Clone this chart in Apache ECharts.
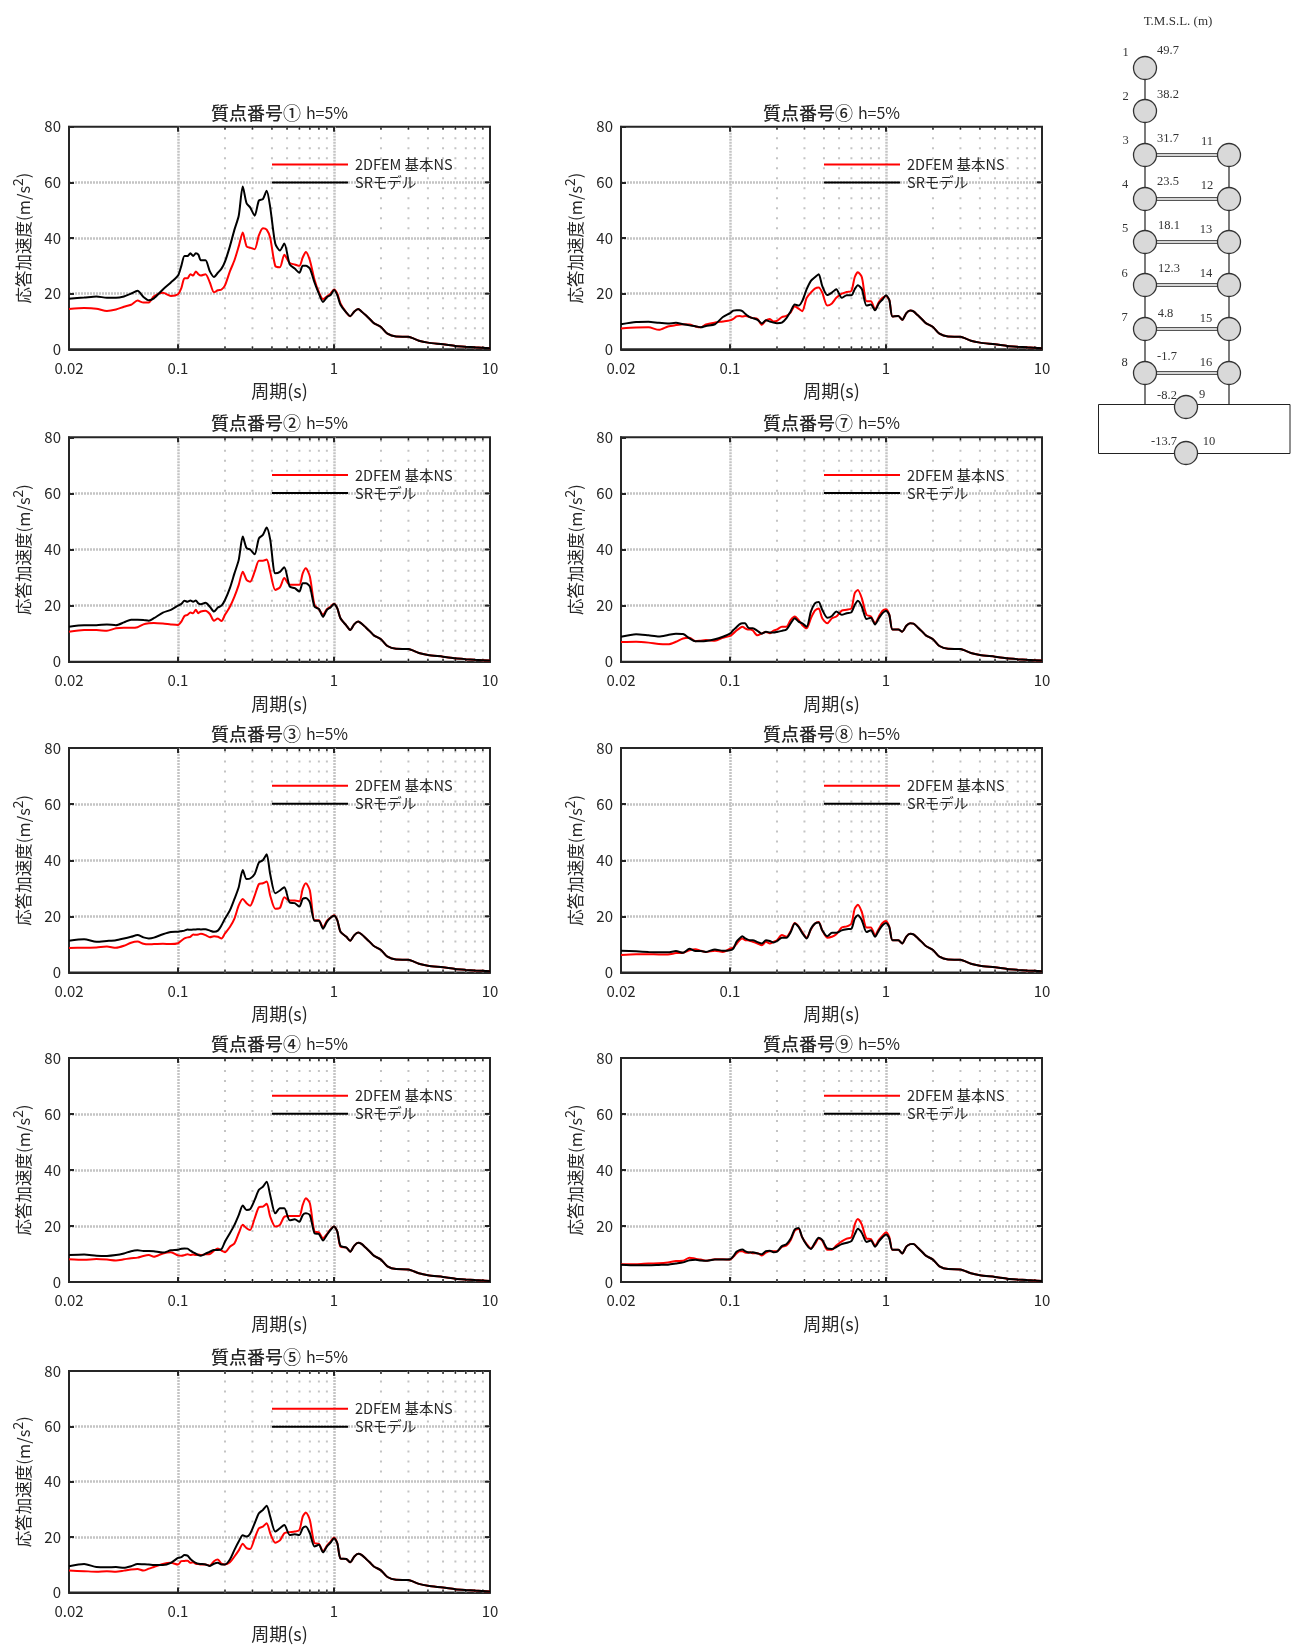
<!DOCTYPE html>
<html>
<head>
<meta charset="utf-8">
<title>応答スペクトル</title>
<script src="https://cdn.jsdelivr.net/npm/echarts@6/dist/echarts.min.js"></script>
<style>
  html, body { margin: 0; padding: 0; background: #fff; }
  #main { width: 1296px; height: 1652px; }
</style>
</head>
<body>
<div id="main"></div>
<script>
// periods (s) shared by every curve
var headPeriods = [0.02,0.025,0.03,0.035,0.04,0.045,0.05,0.055,0.06,0.065,0.07,0.08,0.09,0.1,0.105,0.11,0.115,0.12,0.125,0.13,0.135,0.14,0.15,0.16,0.17,0.18,0.19,0.2,0.215,0.23,0.245,0.26,0.275,0.29,0.31,0.33,0.35,0.37,0.39,0.42,0.45,0.48,0.52,0.56,0.6,0.63,0.66,0.7,0.75,0.8,0.85,0.9,0.95,1,1.05,1.1];
var shoulderPeriods = [1.2,1.27,1.35,1.43];
var tailPeriods = [1.5,1.6,1.7,1.8,2,2.2,2.5,3,3.5,4,5,6,7,8,10];
// between 1.2 and 1.43 s the two curves of a panel coincide, one list per panel
var shoulders = [[13.2,11.9,13.6,14.5],[12.9,11.3,13.4,14.3],[12.7,11.3,13.3,14.2],[12.3,10.8,13,14],[12.1,10.9,13,14],[12,10.6,13,13.9],[11.5,10.7,12.8,13.7],[11.5,10.3,12.8,13.8],[11.5,10.2,12.6,13.5]];
// above 1.5 s all the curves lie on top of each other
var tailValues = [13.6,12.2,10.8,9.4,8,5.6,4.6,4.5,3.1,2.4,1.8,1.2,0.9,0.7,0.4];

// 2DFEM 基本NS
var red1 = [14.5,14.8,14.6,13.8,14.3,15.3,16,17.5,16.8,16.8,19,20.3,19.2,19.8,22,25.5,25.5,27,26.5,28,27,26.5,27,24,20.5,21.2,21.5,23,28,32,37,42,37,36.5,36,41,43.5,43,40,30,29.5,34,31,30.5,30,33,35,32,25,20.5,18,19,20,21.5,20,16.5];
var red2 = [10.7,11.3,11.3,11,11.9,12.1,12.1,12.3,13.3,13.7,13.8,13.6,13.3,13.1,14.3,16.3,16.7,17.5,17.3,18.5,17.3,17.9,18.2,17,14.6,15.4,14.5,16.7,19.6,23.2,27.4,32.1,29.2,28.5,32.1,36,36,36.4,32,25.6,26.5,29.8,27.4,27.4,27.4,31.5,33.3,30.4,20.2,18.7,16.7,18.7,19.6,20.7,19,15.5];
var red3 = [8.7,8.8,8.9,9.2,8.8,9.5,10.6,11,10.2,10,10.1,10.2,10.1,10.4,11.3,12.1,12.5,12.7,13.5,13.4,13.5,13.8,13.3,12.5,12.9,12.7,12.1,13.9,16.2,19.2,23.9,26.2,24.7,23.8,27.4,31.5,31.8,32.4,27.4,22.7,23,26.8,25.6,25.6,25.4,29.8,31.8,29.2,18.6,18.6,16,18.4,19.5,20.4,18.6,14.5];
var red4 = [8.1,7.9,8.2,8,7.7,8.1,8.5,8.7,9.3,9.6,9,10.2,10.6,9.5,9.4,9.6,9.9,9.6,9.8,9.6,9.8,9.6,9.9,10,11.2,12,11.2,10.6,12.6,13.8,17.4,20.4,19.2,18.6,22.7,26.7,26.9,27.9,23.3,19.8,20.4,23.3,23.6,23.6,23.6,27.5,29.9,28.1,18,17.7,15.6,17.1,18.8,19.8,18,12.6];
var red5 = [7.9,7.7,7.5,7.7,7.5,7.9,8.3,8.5,7.9,8.6,9.2,10.3,10.7,10.1,11.3,11.4,11.5,10.7,10.9,10.4,10.3,10.1,10.1,9.7,11.3,11.9,10.4,10.1,10.9,13,15.2,17.6,16,15.7,19.6,23.2,23.8,25,21.4,18,18.8,21.4,21.8,22,22.6,27.4,28.9,26.2,17.8,17.6,14.8,16.9,18.4,19.9,17.8,12.3];
var red6 = [7.5,7.8,7.9,7,8.2,8.7,9,8.9,8.2,7.9,8.9,9.6,10,10.4,10.9,11.8,12,11.8,12,11.8,11.5,11.2,10.9,8.8,10.4,10.9,10,10.2,11.6,12,13.3,15.5,14.6,13.7,18.5,20.4,21.8,22.2,20.4,15.7,16.5,18.5,20,20.6,21,25.9,27.7,25.9,17.3,17.3,14.3,17,18.5,19.1,17.7,11.8];
var red7 = [7,7.1,6.8,6.3,6.2,7.1,8.3,8.5,7.3,7.5,7.7,7.5,8.5,9.2,10.1,11.1,11.9,12.5,11.9,11.5,11.5,11.1,9.4,10.1,10.6,10.1,11.1,11.5,12.5,12.5,14.9,16.1,14.9,13.1,11.9,15.5,18.2,19,15.5,13.7,15.5,16.1,18.2,18.5,19,24.4,25.6,22.6,16.7,16.1,13.7,16.1,18.2,18.7,16.7,11.5];
var red8 = [6.2,6.5,6.5,6.4,6.4,6.9,7,7.9,8.3,7.7,7.3,7.7,7.3,8.5,8.9,10.1,11.5,12.1,11.5,11.5,11.2,10.9,10.3,9.7,10.9,10.3,10.9,11.5,13.3,12.7,14.8,17.6,16.4,14.4,12.4,15.3,17.4,18,15,12.4,12.7,13.6,16,16.4,17.4,22.7,24.1,21.5,16,16,13.3,15.6,17.6,18.3,16.2,11.5];
var red9 = [6.3,6.3,6.6,6.7,7,7.5,7.6,8.7,8.3,8,7.6,8.1,8.1,8,9,10.2,11,11,10.5,10.4,10.6,10.3,10.3,9.5,10.5,11,11,11,12.5,13,15,18.3,19,16,13.5,12,13.5,15.5,14.8,11.5,11.5,13,14.5,15.5,16,20.5,22.5,20.5,15.5,15.3,13,15,16.5,17.8,16,11.5];

// SRモデル
var black1 = [18.2,18.6,19,18.5,18.5,19,20,21,18.8,17.6,18.3,21.5,24,26.5,30,33.5,33.5,34.5,33.5,34.5,34,32,32,28,26,27.5,29,31.5,37,43,48,58.5,52.5,51,48,53.5,54,57,51,38,35.5,38,30.5,29,27.5,30,30,29,24,20,17,18.7,19.5,21.3,19.5,16];
var black2 = [12.5,13,13,13.3,13,14,15,15,14.9,14.6,15.5,17.5,18.5,20,20.6,21.7,21.4,21.8,21.4,21.8,20.8,20.5,21,19.6,17.9,19.3,20,22,26.2,31.5,36.3,44.6,40.5,40,38.3,44,45.2,47.8,43.5,31.5,32,33.7,26.8,26.2,25,28,28,26.8,19.6,18.8,16,18.5,19.3,20.6,19,15.5];
var black3 = [11.3,11.8,10.9,11.2,11.5,12.1,12.7,13.3,12.5,12.1,12.4,13.6,14.4,14.5,14.7,14.9,15.3,15.2,15.3,15.3,15.4,15.3,15.4,14.9,14.5,14.9,16.8,19.2,22.1,26.2,30.4,36.5,33.3,33.5,35.1,39.2,40,42.1,35,28.2,29.2,30.4,24.9,24.7,23.5,26.2,26.5,25,18.4,18.4,15.6,18,19.5,20.2,18.6,14.5];
var black4 = [9.6,9.8,9.4,9.3,9.6,10.2,11,11.3,11.1,11.1,11,10.5,11.3,11.5,11.9,12,11.9,11.2,10.6,10.1,9.6,9.4,10.1,10.8,11.4,11.4,11.7,14.4,17.4,20.4,23.9,27.3,25.7,26,29.3,32.9,34,35.8,31,24.5,26.3,26.3,22,22.4,21.5,23.9,24.5,23.9,17.4,17.1,14.8,16.8,18.6,19.8,18,12.9];
var black5 = [9.5,10.3,9.2,9.1,9.2,8.9,9.5,10.3,10.2,10.1,9.9,9.9,10.7,12.5,12.8,13.5,13.3,12.1,11.3,10.7,10.4,10.3,10.1,9.6,10.4,10.7,10.1,10.1,11.9,15.4,18.4,20.7,20.2,21.2,25,28.6,29.8,31.3,27.4,22,23.2,24.4,20.8,21,20.8,23.2,23.8,21.4,16.6,17.2,14.5,16.6,18,19.6,17.8,12.3];
var black6 = [9,9.8,9.9,9.5,9.3,9.5,9,8.6,8.3,7.9,8.4,9,11.6,13,13.9,14,14,13.7,12.8,12,11.5,11.2,10.6,9.3,10.4,10,9.6,9.4,9.6,11.2,13.7,16.1,15.7,17.3,21.6,24.6,25.9,27,22.8,19.5,20.4,21.6,18.5,19.4,19.4,21.6,23,21.6,15.7,16.1,14,16.5,17.9,19.4,17.7,11.8];
var black7 = [8.9,9.8,9.4,9,9.5,10,9.9,8.3,7.3,7.3,7.4,8,8.9,10,11.3,12.3,13.3,13.7,13.7,12.3,11.9,11.9,11,10,10.7,10.4,10.4,10.6,11,11.5,13.7,15.5,14.3,13.7,12.5,17.9,20.8,21.3,18.5,15.7,16.3,17.9,16.7,17.3,17.6,20.2,21.7,19.6,15.2,15.7,13.3,15.5,17.3,18.2,16.7,11.5];
var black8 = [7.7,7.5,7.3,7.2,7.2,7.6,7,8.4,7.6,7.6,7.3,8.2,7.7,7.9,8.5,10.9,12.1,12.9,12.1,11.7,11.5,11.5,10.8,10.3,11.5,11.2,10.7,11.2,12.4,12.4,14.4,17.4,16.2,14.1,12.1,15.6,17.4,17.8,15,12.9,14.1,14.1,15,15.4,15.6,19.2,20.4,18.6,14.4,15,12.7,15,16.8,17.6,16.2,11.5];
var black9 = [6.2,6,6,6.1,6.2,6.6,7,7.8,7.9,7.7,7.6,8,8,8.1,9.2,10.8,11.4,11.6,11,10.6,10.5,10.6,10.2,9.9,11,11.2,10.6,10.8,12.8,13.5,15.5,18.8,19.3,16,13.2,11.8,14,15.8,15,12,11.8,12.5,13.5,14,14.6,17,19,17.5,14.3,14.8,12.6,14.5,16,17,15.5,11.5];

var redCurves = [red1, red2, red3, red4, red5, red6, red7, red8, red9];
var blackCurves = [black1, black2, black3, black4, black5, black6, black7, black8, black9];
var panelMarks = ['①', '②', '③', '④', '⑤', '⑥', '⑦', '⑧', '⑨'];
var redName = '2DFEM 基本NS';
var blackName = 'SRモデル';

// tick values
var majorPeriods = [0.1, 1];
var minorPeriods = [0.2, 0.3, 0.4, 0.5, 0.6, 0.7, 0.8, 0.9, 2, 3, 4, 5, 6, 7, 8, 9];
var yTicks = [20, 40, 60];

// schematic of the model
var nodeLabels = ['1', '2', '3', '4', '5', '6', '7', '8', '9', '10', '11', '12', '13', '14', '15', '16'];
var elevations = ['49.7', '38.2', '31.7', '23.5', '18.1', '12.3', '4.8', '-1.7', '-8.2', '-13.7'];

// page layout, px
var rowTops = [126.7, 437.3, 748.1, 1057.9, 1370.9];
var rowBottoms = [349.3, 661.7, 972.4, 1282, 1592.5];
var colLefts = [69, 621];
var plotWidth = 421;
var jp = '"Noto Sans CJK JP", sans-serif';
var inkColor = '#262626';

function toPoints(values, panel) {
    var all = values.concat(shoulders[panel], tailValues);
    return headPeriods.concat(shoulderPeriods, tailPeriods).map(function (t, i) { return [t, all[i]]; });
}

// dotted grid and small ticks of the log axis, ticks on the top and right edge
function renderMinor(params, api) {
    var t = api.value(0);
    var bottom = api.coord([t, 0]);
    var top = api.coord([t, 80]);
    return { type: 'group', children: [
        { type: 'line', shape: { x1: bottom[0], y1: bottom[1], x2: top[0], y2: top[1] },
          style: { stroke: '#c4c4c4', lineWidth: 2, lineDash: [2, 8] } },
        { type: 'line', shape: { x1: bottom[0], y1: bottom[1], x2: bottom[0], y2: bottom[1] - 3 },
          style: { stroke: inkColor, lineWidth: 1.5 } },
        { type: 'line', shape: { x1: top[0], y1: top[1], x2: top[0], y2: top[1] + 3 },
          style: { stroke: inkColor, lineWidth: 1.5 } }
    ] };
}
function renderTopTick(params, api) {
    var top = api.coord([api.value(0), 80]);
    return { type: 'line', shape: { x1: top[0], y1: top[1], x2: top[0], y2: top[1] + 5 },
        style: { stroke: inkColor, lineWidth: 2 } };
}
function renderRightTick(params, api) {
    var right = api.coord([10, api.value(1)]);
    return { type: 'line', shape: { x1: right[0], y1: right[1], x2: right[0] - 5, y2: right[1] },
        style: { stroke: inkColor, lineWidth: 2 } };
}

var grids = [], xAxes = [], yAxes = [], titles = [], legends = [], seriesList = [];
panelMarks.forEach(function (mark, i) {
    var col = i < 5 ? 0 : 1;
    var row = i < 5 ? i : i - 5;
    var left = colLefts[col];
    var top = rowTops[row];
    var height = rowBottoms[row] - rowTops[row];

    grids.push({ left: left, top: top, width: plotWidth, height: height, show: true,
        borderColor: inkColor, borderWidth: 2, backgroundColor: 'transparent' });
    titles.push({
        text: '{a|質点番号' + mark + '} {b|h=5%}',
        left: left + plotWidth / 2, top: top - 23, textAlign: 'center', padding: 0,
        textStyle: { rich: {
            a: { fontFamily: jp, fontSize: 18, fontWeight: 500, color: inkColor },
            b: { fontFamily: jp, fontSize: 16, fontWeight: 'normal', color: inkColor }
        } }
    });
    xAxes.push({
        type: 'log', logBase: 10, min: 0.02, max: 10, gridIndex: i,
        name: '周期(s)', nameLocation: 'middle', nameGap: 33,
        nameTextStyle: { fontFamily: jp, fontSize: 18, color: inkColor },
        axisLine: { show: true, onZero: false, lineStyle: { color: inkColor, width: 2 } },
        axisTick: { show: true, inside: true, length: 5, lineStyle: { color: inkColor, width: 2 } },
        minorTick: { show: false },
        axisLabel: { fontFamily: jp, fontSize: 15, color: inkColor, margin: 11,
            showMinLabel: true, showMaxLabel: true },
        splitLine: { show: true, showMinLine: false, showMaxLine: false,
            lineStyle: { color: '#c4c4c4', width: 2.5, type: [2, 1] } }
    });
    yAxes.push({
        type: 'value', min: 0, max: 80, interval: 20, gridIndex: i,
        name: '{n|応答加速度(m/s}{s|2}{n|)}', nameLocation: 'middle', nameGap: 31,
        nameTextStyle: { rich: {
            n: { fontFamily: jp, fontSize: 16.5, color: inkColor, height: 28, lineHeight: 28, verticalAlign: 'bottom' },
            s: { fontFamily: jp, fontSize: 14, color: inkColor, height: 16, lineHeight: 16, verticalAlign: 'top' }
        } },
        axisLine: { show: true, lineStyle: { color: inkColor, width: 2 } },
        axisTick: { show: true, inside: true, length: 5, lineStyle: { color: inkColor, width: 2 } },
        axisLabel: { fontFamily: jp, fontSize: 15, color: inkColor, margin: 8 },
        splitLine: { show: true, showMinLine: false, showMaxLine: false,
            lineStyle: { color: '#c4c4c4', width: 2.5, type: [2, 1] } }
    });
    legends.push({
        left: left + 203, top: top + 30.5, orient: 'vertical', padding: 0,
        icon: 'rect', itemWidth: 76, itemHeight: 2, itemGap: 3.5, selectedMode: false,
        data: [redName, blackName],
        textStyle: { fontFamily: jp, fontSize: 14.5, color: inkColor, padding: [0, 0, 0, 2] }
    });

    seriesList.push({ type: 'custom', xAxisIndex: i, yAxisIndex: i, silent: true, z: 1,
        renderItem: renderMinor, encode: { x: 0 },
        data: minorPeriods.map(function (t) { return [t]; }) });
    seriesList.push({ type: 'custom', xAxisIndex: i, yAxisIndex: i, silent: true, z: 5,
        renderItem: renderTopTick, encode: { x: 0 },
        data: majorPeriods.map(function (t) { return [t]; }) });
    seriesList.push({ type: 'custom', xAxisIndex: i, yAxisIndex: i, silent: true, z: 5,
        renderItem: renderRightTick, encode: { x: 0, y: 1 },
        data: yTicks.map(function (v) { return [10, v]; }) });
    seriesList.push({ name: redName, type: 'line', xAxisIndex: i, yAxisIndex: i, z: 3,
        data: toPoints(redCurves[i], i), symbol: 'none', smooth: 0.25, animation: false,
        lineStyle: { color: '#ff0000', width: 2 }, itemStyle: { color: '#ff0000' } });
    seriesList.push({ name: blackName, type: 'line', xAxisIndex: i, yAxisIndex: i, z: 4,
        data: toPoints(blackCurves[i], i), symbol: 'none', smooth: 0.25, animation: false,
        lineStyle: { color: '#000000', width: 2 }, itemStyle: { color: '#000000' } });
});

// ---- schematic on the upper right, drawn as plain graphics
var colA = 1145, colB = 1229, colC = 1186;
var levelY = [68, 111, 155, 199, 242, 285, 329, 373];
var schematic = [];
function addLine(x1, y1, x2, y2, color, width) {
    schematic.push({ type: 'line', z: 10, shape: { x1: x1, y1: y1, x2: x2, y2: y2 },
        style: { stroke: color, lineWidth: width } });
}
function addNode(x, y) {
    schematic.push({ type: 'circle', z: 12, shape: { cx: x, cy: y, r: 11.5 },
        style: { fill: '#d9d9d9', stroke: '#333', lineWidth: 1.3 } });
}
function addText(str, x, y, size) {
    schematic.push({ type: 'text', z: 13, x: x, y: y,
        style: { text: str, fill: '#333', fontFamily: '"Liberation Serif", serif', fontSize: size || 12.5,
            align: 'center', verticalAlign: 'middle' } });
}
addLine(colA, levelY[0], colA, 404, '#333', 1.3);
addLine(colB, levelY[2], colB, 404, '#333', 1.3);
schematic.push({ type: 'rect', z: 11, shape: { x: 1098.5, y: 404.5, width: 191.5, height: 49 },
    style: { fill: 'none', stroke: '#222', lineWidth: 1 } });
levelY.forEach(function (y, k) {
    addNode(colA, y);
    if (k >= 2) {
        addLine(colA, y - 1.4, colB, y - 1.4, '#555', 1.2);
        addLine(colA, y + 1.4, colB, y + 1.4, '#555', 1.2);
        addNode(colB, y);
    }
});
addNode(colC, 407);
addNode(colC, 453);

addText('T.M.S.L. (m)', 1178, 21.5, 13);
var labelX = [1125.5, 1125.5, 1125.5, 1125, 1125, 1124.5, 1124.5, 1124.5, 1202, 1209, 1207, 1207, 1206, 1206, 1206, 1206];
var labelY = [52.5, 96.5, 140.5, 185, 228.5, 273.5, 317.5, 362.5, 394.5, 441.5, 141.5, 185.5, 229.5, 273.5, 318.5, 362.5];
nodeLabels.forEach(function (s, k) { addText(s, labelX[k], labelY[k]); });
var elevX = [1168, 1168, 1168, 1168, 1169, 1169, 1165.5, 1167, 1167, 1164];
var elevY = [51, 94.5, 138.5, 182, 225.5, 268.5, 313.5, 356.5, 395.5, 441.5];
elevations.forEach(function (s, k) { addText(s, elevX[k], elevY[k]); });

var myChart = echarts.init(document.getElementById('main'), null, { renderer: 'canvas' });
myChart.setOption({
    backgroundColor: '#ffffff',
    animation: false,
    title: titles,
    legend: legends,
    grid: grids,
    xAxis: xAxes,
    yAxis: yAxes,
    series: seriesList,
    graphic: { elements: schematic }
});
</script>
</body>
</html>
